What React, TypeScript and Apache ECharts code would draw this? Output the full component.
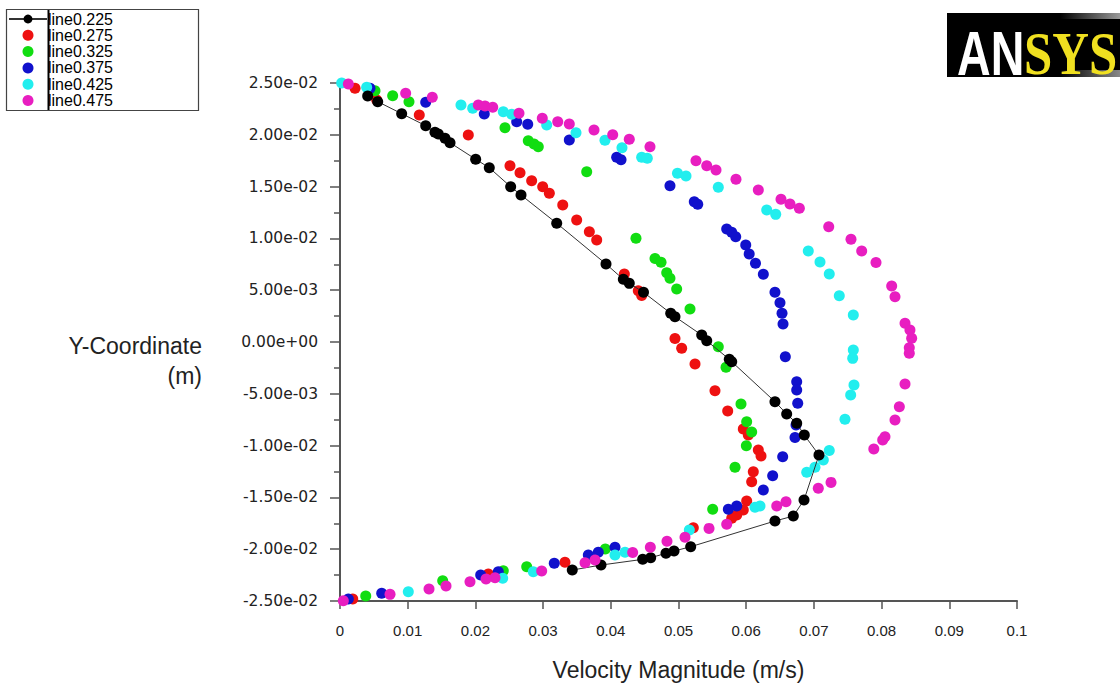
import React, { useEffect, useRef } from "react";
import * as echarts from "echarts";

// Velocity magnitude (m/s), Y-coordinate (m) pairs for each line
const line0225: [number, number][] = [
  [0.00409, 0.02375], [0.00557, 0.0232], [0.00911, 0.02204], [0.01266, 0.02088],
  [0.01403, 0.02024], [0.01452, 0.02008], [0.01551, 0.01966], [0.01625, 0.01924],
  [0.02004, 0.01764], [0.02205, 0.01682], [0.02521, 0.01499], [0.02674, 0.01419],
  [0.03201, 0.01146], [0.03929, 0.00753], [0.04185, 0.00605], [0.04273, 0.00566],
  [0.04483, 0.0048], [0.04885, 0.00277], [0.04948, 0.00244], [0.05343, 0.00067],
  [0.05417, 0.00012], [0.0575, -0.00167], [0.05786, -0.0019], [0.06425, -0.00576],
  [0.06598, -0.00695], [0.06746, -0.00785], [0.06858, -0.00898], [0.07075, -0.01091],
  [0.06854, -0.01525], [0.06696, -0.0168], [0.06425, -0.01728], [0.0518, -0.01976],
  [0.04934, -0.02018], [0.04815, -0.0204], [0.04589, -0.02082], [0.04471, -0.02098],
  [0.03855, -0.02153], [0.03431, -0.02201],
];

const line0275: [number, number][] = [
  [0.00222, 0.02449], [0.00542, 0.02336], [0.01171, 0.02191], [0.01895, 0.01998],
  [0.02511, 0.01702], [0.02659, 0.01634], [0.02831, 0.01557], [0.02994, 0.01499],
  [0.03092, 0.01435], [0.0329, 0.01322], [0.03496, 0.01178], [0.03683, 0.01064],
  [0.03792, 0.00984], [0.042, 0.00656], [0.04406, 0.00495], [0.04456, 0.0045],
  [0.04948, 0.00034], [0.05047, -0.00061], [0.05244, -0.00213], [0.05539, -0.0047],
  [0.05727, -0.00666], [0.05957, -0.0084], [0.06031, -0.00898], [0.06179, -0.01043],
  [0.06219, -0.01101], [0.06105, -0.01252], [0.06081, -0.01349], [0.06007, -0.01535],
  [0.05957, -0.01622], [0.0586, -0.0167], [0.05786, -0.01702], [0.05219, -0.01793],
  [0.03323, -0.02127], [0.02191, -0.0224], [0.00188, -0.02481],
];

const line0325: [number, number][] = [
  [0.00517, 0.02426], [0.00778, 0.02377], [0.01019, 0.0232], [0.02437, 0.02069],
  [0.02781, 0.01943], [0.02866, 0.01911], [0.02929, 0.01885], [0.03644, 0.01644],
  [0.04372, 0.01001], [0.04653, 0.00807], [0.04742, 0.0077], [0.04826, 0.00669],
  [0.04874, 0.00615], [0.04973, 0.00511], [0.0517, 0.00318], [0.05588, -0.00045],
  [0.05702, -0.00244], [0.05923, -0.00599], [0.06007, -0.0077], [0.06081, -0.00869],
  [0.06002, -0.01002], [0.05835, -0.0121], [0.05505, -0.01615], [0.03919, -0.01998],
  [0.02758, -0.02169], [0.02412, -0.02208], [0.01517, -0.02304], [0.0038, -0.02452],
];

const line0375: [number, number][] = [
  [0.00443, 0.02449], [0.01266, 0.02314], [0.02131, 0.02201], [0.0261, 0.02126],
  [0.02773, 0.02101], [0.03387, 0.0195], [0.04087, 0.01783], [0.04151, 0.0176],
  [0.04874, 0.01509], [0.05233, 0.01354], [0.05284, 0.01329], [0.05712, 0.01091],
  [0.05786, 0.01059], [0.05845, 0.01016], [0.05993, 0.00936], [0.06044, 0.00849],
  [0.06137, 0.0076], [0.06253, 0.00653], [0.06425, 0.0048], [0.06499, 0.00379],
  [0.06529, 0.00277], [0.06544, 0.00173], [0.06578, -0.00142], [0.06746, -0.00383],
  [0.06746, -0.00464], [0.06761, -0.00592], [0.06736, -0.00801], [0.06721, -0.00922],
  [0.06539, -0.01107], [0.06391, -0.01291], [0.06253, -0.01429], [0.0586, -0.01583],
  [0.05736, -0.01615], [0.04062, -0.01982], [0.03815, -0.0203], [0.03668, -0.02056],
  [0.03165, -0.02136], [0.02338, -0.02217], [0.02078, -0.02249], [0.00616, -0.02426],
  [0.00123, -0.02481],
];

const line0425: [number, number][] = [
  [0.00025, 0.025], [0.00394, 0.02458], [0.01787, 0.02288], [0.0196, 0.02256],
  [0.02412, 0.02223], [0.02536, 0.02198], [0.03053, 0.02095], [0.03486, 0.0202],
  [0.03914, 0.01947], [0.04165, 0.01875], [0.04456, 0.01783], [0.04539, 0.01773],
  [0.04985, 0.01628], [0.05111, 0.01602], [0.05588, 0.01493], [0.06303, 0.01274],
  [0.06436, 0.01232], [0.06917, 0.00878], [0.0709, 0.00772], [0.07227, 0.00656],
  [0.07375, 0.00447], [0.07582, 0.0026], [0.07582, -0.00077], [0.07573, -0.00158],
  [0.07592, -0.00415], [0.07543, -0.00512], [0.07459, -0.00746], [0.07227, -0.01048],
  [0.07139, -0.01139], [0.07016, -0.0121], [0.06894, -0.01258], [0.06204, -0.01583],
  [0.0613, -0.01596], [0.0516, -0.01815], [0.0421, -0.0203], [0.04062, -0.02056],
  [0.02855, -0.02217], [0.02403, -0.02281], [0.01009, -0.02411],
];

const line0475: [number, number][] = [
  [0.00123, 0.0249], [0.0097, 0.02401], [0.01363, 0.02362], [0.02043, 0.02288],
  [0.02142, 0.02278], [0.02256, 0.02265], [0.02644, 0.02208], [0.02988, 0.02159],
  [0.03216, 0.02126], [0.03387, 0.02104], [0.03752, 0.02046], [0.04028, 0.02001],
  [0.04273, 0.01957], [0.04579, 0.01885], [0.05258, 0.0175], [0.05417, 0.01702],
  [0.05554, 0.0166], [0.05849, 0.0157], [0.06179, 0.01467], [0.06514, 0.01377],
  [0.06647, 0.01332], [0.06785, 0.0129], [0.07219, 0.01113], [0.07548, 0.00991],
  [0.07706, 0.00878], [0.07917, 0.00767], [0.08149, 0.0054], [0.08198, 0.00437],
  [0.08346, 0.0018], [0.08419, 0.00116], [0.08444, 0.00036], [0.08409, -0.00055],
  [0.08409, -0.00109], [0.08346, -0.00406], [0.08262, -0.00625], [0.08198, -0.00753],
  [0.0805, -0.00914], [0.08016, -0.00946], [0.07885, -0.01033], [0.07253, -0.01355],
  [0.07065, -0.01412], [0.06588, -0.01542], [0.06451, -0.01583], [0.05712, -0.0176],
  [0.05451, -0.01799], [0.05096, -0.01885], [0.0483, -0.01924], [0.04584, -0.01982],
  [0.04323, -0.02032], [0.03767, -0.02105], [0.03619, -0.02131], [0.02979, -0.02211],
  [0.0229, -0.02275], [0.02157, -0.02288], [0.0192, -0.02314], [0.01566, -0.02356],
  [0.01315, -0.02384], [0.00739, -0.02436], [0.00049, -0.02497],
];

const seriesNames = ["line0.225", "line0.275", "line0.325", "line0.375", "line0.425", "line0.475"];
const seriesColors = ["#000000", "#ee1111", "#11dd11", "#1111cc", "#22eeee", "#e81ec0"];
const seriesData = [line0225, line0275, line0325, line0375, line0425, line0475];

const xTitle = "Velocity Magnitude (m/s)";
const yTitle = "Y-Coordinate\n(m)";

function fmtY(v: number): string {
  const s = v.toExponential(2);
  const m = s.match(/^(-?[\d.]+)e([+-])(\d+)$/);
  if (!m) return s;
  let mant = m[1];
  let sign = m[2];
  let exp = m[3];
  if (Math.abs(v) < 1e-12) {
    mant = "0.00";
    sign = "+";
    exp = "0";
  }
  return mant + "e" + sign + (exp.length < 2 ? "0" + exp : exp);
}

function fmtX(v: number): string {
  return String(Number(v.toFixed(3)));
}

export default function App() {
  const ref = useRef<HTMLDivElement>(null);
  useEffect(() => {
    if (!ref.current) return;
    const chart = echarts.init(ref.current, null, { renderer: "svg" });
    const series: any[] = seriesData.map((d, i) => {
      if (i === 0) {
        return {
          name: seriesNames[i],
          type: "line",
          data: d,
          symbol: "circle",
          symbolSize: 11,
          showSymbol: true,
          itemStyle: { color: seriesColors[i] },
          lineStyle: { color: "#333", width: 1 },
          z: 10,
        };
      }
      return {
        name: seriesNames[i],
        type: "scatter",
        data: d,
        symbol: "circle",
        symbolSize: 11,
        itemStyle: { color: seriesColors[i], opacity: 1 },
        z: 5 + i,
      };
    });
    chart.setOption({
      animation: false,
      backgroundColor: "#ffffff",
      grid: { left: 340, right: 103, top: 83, bottom: 87, containLabel: false },
      legend: {
        orient: "vertical",
        left: 8,
        top: 11,
        padding: 0,
        itemGap: 0.3,
        itemWidth: 38,
        itemHeight: 11,
        selectedMode: false,
        data: seriesNames,
        textStyle: {
          fontFamily: "Liberation Sans",
          fontSize: 16,
          lineHeight: 16,
          color: "#000",
          padding: [0, 0, 0, -4],
        },
      },
      xAxis: {
        type: "value",
        min: 0,
        max: 0.1,
        interval: 0.01,
        name: xTitle,
        nameLocation: "middle",
        nameGap: 57,
        nameTextStyle: { fontFamily: "Liberation Sans", fontSize: 23, color: "#222" },
        axisLine: { show: true, onZero: false, lineStyle: { color: "#555", width: 2 } },
        axisTick: { show: true, inside: false, length: 8, lineStyle: { color: "#555", width: 1.5 } },
        axisLabel: {
          formatter: fmtX,
          margin: 22,
          fontFamily: "Liberation Sans",
          fontSize: 15,
          color: "#222",
        },
        splitLine: { show: false },
      },
      yAxis: {
        type: "value",
        min: -0.025,
        max: 0.025,
        interval: 0.005,
        axisLine: { show: true, onZero: false, lineStyle: { color: "#555", width: 2 } },
        axisTick: { show: true, inside: false, length: 10, lineStyle: { color: "#555", width: 1.5 } },
        minorTick: { show: true, splitNumber: 2, length: 6, lineStyle: { color: "#555", width: 1.5 } },
        axisLabel: {
          formatter: fmtY,
          margin: 22,
          fontFamily: "DejaVu Sans",
          fontSize: 15.5,
          color: "#222",
        },
        splitLine: { show: false },
      },
      graphic: [
        {
          type: "rect",
          shape: { x: 6.5, y: 9.5, width: 192, height: 101 },
          style: { fill: "none", stroke: "#444", lineWidth: 1.2 },
          z: 100,
        },
        {
          type: "line",
          shape: { x1: 48.5, y1: 10, x2: 48.5, y2: 110 },
          style: { stroke: "#000", lineWidth: 2 },
          z: 100,
        },
        {
          type: "text",
          x: 202,
          y: 331,
          style: {
            text: yTitle,
            fontFamily: "Liberation Sans",
            fontSize: 23,
            lineHeight: 30,
            fill: "#222",
            align: "right",
            verticalAlign: "top",
          },
        },
        {
          type: "group",
          children: [
            {
              type: "rect",
              shape: { x: 947, y: 13, width: 173, height: 64 },
              style: { fill: "#000" },
            },
            {
              type: "rect",
              shape: { x: 1060, y: 13, width: 60, height: 6 },
              style: {
                fill: new echarts.graphic.LinearGradient(0, 0, 1, 0, [
                  { offset: 0, color: "#000" },
                  { offset: 1, color: "#999" },
                ]),
              },
            },
            {
              type: "rect",
              shape: { x: 1060, y: 70, width: 60, height: 7 },
              style: {
                fill: new echarts.graphic.LinearGradient(0, 0, 1, 0, [
                  { offset: 0, color: "#000" },
                  { offset: 1, color: "#888" },
                ]),
              },
            },
            {
              type: "text",
              x: 957,
              y: 22,
              scaleX: 0.74,
              style: {
                text: "AN",
                fontFamily: "Liberation Sans",
                fontWeight: "bold",
                fontSize: 63,
                fill: "#fff",
                verticalAlign: "top",
              },
            },
            {
              type: "text",
              x: 1024,
              y: 22,
              scaleX: 0.82,
              style: {
                text: "SYS",
                fontFamily: "'Liberation Serif', 'DejaVu Serif', serif",
                fontWeight: "bold",
                fontSize: 62,
                fill: "#f0e020",
                verticalAlign: "top",
              },
            },
          ],
        },
      ],
      series,
    });
    return () => chart.dispose();
  }, []);
  return <div ref={ref} style={{ width: 1120, height: 688, position: "absolute", left: 0, top: 0 }} />;
}
